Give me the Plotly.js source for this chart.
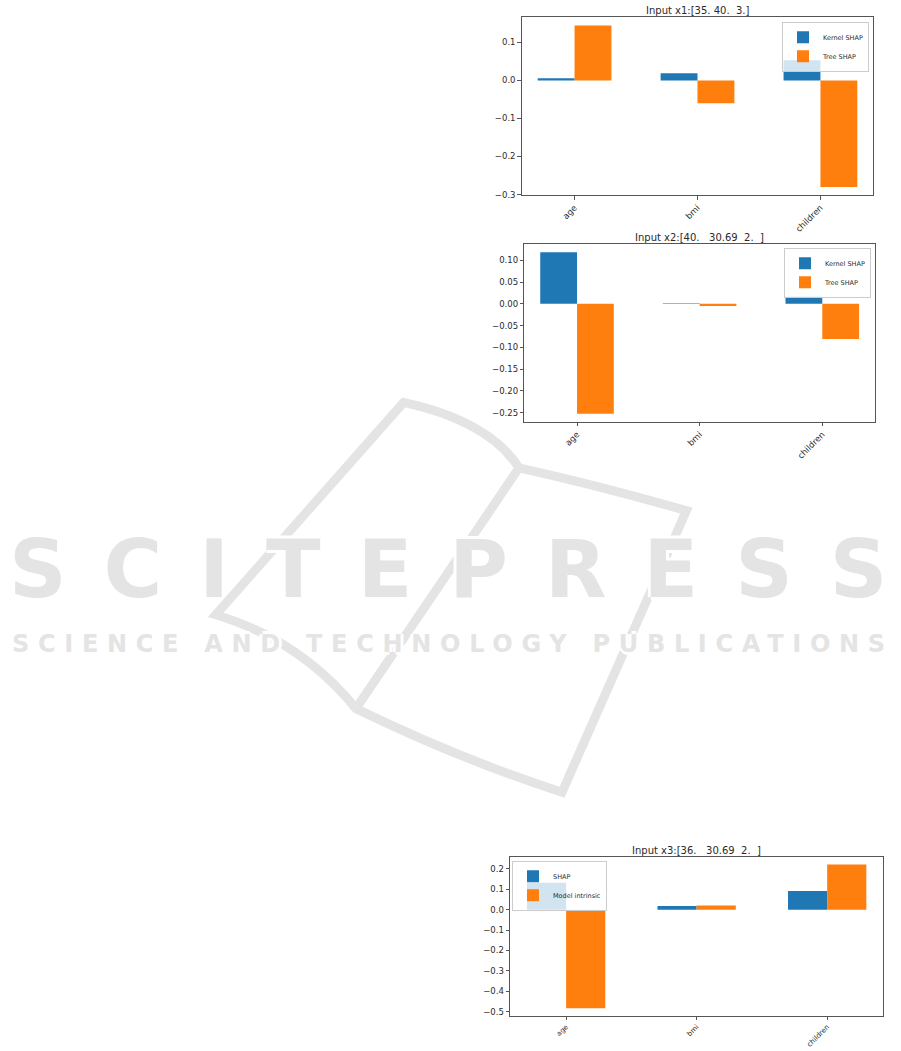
<!DOCTYPE html>
<html>
<head>
<meta charset="utf-8">
<script src="https://cdn.plot.ly/plotly-3.0.1.min.js"></script>
<style>html,body{margin:0;padding:0;background:#fff;}#chart{width:901px;height:1051px;}</style>
</head>
<body>
<div id="chart"></div>
<script>
// ---- data ----
const categories = ["age", "bmi", "children"];

const title1 = "Input x1:[35. 40.  3.]";
const kernel1 = [0.006, 0.019, 0.053];
const tree1 = [0.145, -0.060, -0.280];

const title2 = "Input x2:[40.   30.69  2.  ]";
const kernel2 = [0.118, 0.0015, 0.016];
const tree2 = [-0.252, -0.005, -0.081];

const title3 = "Input x3:[36.   30.69  2.  ]";
const shap3 = [0.132, 0.018, 0.092];
const intrinsic3 = [-0.484, 0.021, 0.222];

const seriesNames12 = ["Kernel SHAP", "Tree SHAP"];
const seriesNames3 = ["SHAP", "Model intrinsic"];

// ---- styling ----
const BLUE = "#1f77b4", ORANGE = "#ff7f0e";
const W = 901, H = 1051;
const TXT = "#2a2a2a", LINE = "#555";
const FONT = "DejaVu Sans, sans-serif";

function px(x) { return x / W; }
function py(y) { return 1 - y / H; }

function padRange(a, b) {
  const vals = a.concat(b, [0]);
  const lo = Math.min(...vals), hi = Math.max(...vals);
  const m = (hi - lo) * 0.05;
  return [lo - m, hi + m];
}

function xAxis(d0, d1, anchor, fs) {
  return {
    domain: [px(d0), px(d1)], anchor: anchor, type: "category",
    range: [-0.43, 2.43], tickangle: -45, ticks: "outside", ticklen: 3.5,
    tickcolor: LINE, showline: true, mirror: true, linecolor: LINE, linewidth: 1,
    showgrid: false, zeroline: false, tickfont: {family: FONT, size: fs, color: TXT},
    fixedrange: true
  };
}
function yAxis(top, bottom, anchor, range, dtick, fmt) {
  return {
    domain: [py(bottom), py(top)], anchor: anchor, range: range, dtick: dtick,
    tick0: 0, tickformat: fmt, ticks: "outside", ticklen: 3.5, tickcolor: LINE,
    showline: true, mirror: true, linecolor: LINE, linewidth: 1,
    showgrid: false, zeroline: false, tickfont: {family: FONT, size: 8.5, color: TXT},
    fixedrange: true
  };
}

function bar(name, y, color, xa, ya, legend) {
  return {type: "bar", name: name, x: categories, y: y, marker: {color: color, line: {width: 0}},
          xaxis: xa, yaxis: ya, legend: legend, hoverinfo: "skip"};
}

const traces = [
  bar(seriesNames12[0], kernel1, BLUE, "x", "y", "legend"),
  bar(seriesNames12[1], tree1, ORANGE, "x", "y", "legend"),
  bar(seriesNames12[0], kernel2, BLUE, "x2", "y2", "legend2"),
  bar(seriesNames12[1], tree2, ORANGE, "x2", "y2", "legend2"),
  bar(seriesNames3[0], shap3, BLUE, "x3", "y3", "legend3"),
  bar(seriesNames3[1], intrinsic3, ORANGE, "x3", "y3", "legend3")
];

function legendBox(x, y, xanchor) {
  return {x: px(x), y: py(y), xanchor: xanchor, yanchor: "top", xref: "paper", yref: "paper",
          bgcolor: "rgba(255,255,255,0.8)", bordercolor: "#cccccc", borderwidth: 1,
          font: {family: FONT, size: 6.5, color: TXT}, itemwidth: 30, tracegroupgap: 0};
}

function titleAnn(text, x, y) {
  return {text: text, x: px(x), y: py(y), xref: "paper", yref: "paper", showarrow: false,
          xanchor: "center", yanchor: "middle", font: {family: FONT, size: 10, color: TXT}};
}

const wmColor = "#e4e4e4";
const wmShadow = "3px 0 0 #fff, -3px 0 0 #fff, 0 3px 0 #fff, 0 -3px 0 #fff";

const layout = {
  width: W, height: H, margin: {l: 0, r: 0, t: 0, b: 0},
  paper_bgcolor: "#fff", plot_bgcolor: "rgba(0,0,0,0)",
  barmode: "group", bargap: 0.4, bargroupgap: 0,
  showlegend: true,
  xaxis: xAxis(521.7, 873.3, "y", 8.5),
  yaxis: yAxis(17.3, 195, "x", padRange(kernel1, tree1), 0.1, ".1f"),
  xaxis2: xAxis(524.3, 875, "y2", 8.5),
  yaxis2: yAxis(244.3, 421.7, "x2", padRange(kernel2, tree2), 0.05, ".2f"),
  xaxis3: xAxis(510, 883.3, "y3", 7),
  yaxis3: yAxis(857.3, 1015.5, "x3", padRange(shap3, intrinsic3), 0.1, ".1f"),
  legend: legendBox(869, 21.7, "right"),
  legend2: legendBox(871, 247.7, "right"),
  legend3: legendBox(512, 860.7, "left"),
  shapes: [{
    type: "path", layer: "below", xref: "paper", yref: "paper",
    path: "M" + px(403.6) + "," + py(402.4) +
          " Q" + px(489) + "," + py(421) + " " + px(519) + "," + py(467.8) +
          " Q" + px(597) + "," + py(485) + " " + px(686.4) + "," + py(510.6) +
          " L" + px(562) + "," + py(792.2) +
          " Q" + px(462) + "," + py(760) + " " + px(356) + "," + py(708.6) +
          " Q" + px(300) + "," + py(640) + " " + px(215.8) + "," + py(614.7) +
          " Z M" + px(519) + "," + py(467.8) + " L" + px(356) + "," + py(708.6),
    line: {color: wmColor, width: 9}, fillcolor: "rgba(0,0,0,0)"
  }],
  annotations: [
    titleAnn(title1, 697.5, 10.7),
    titleAnn(title2, 699.7, 237.7),
    titleAnn(title3, 696.7, 850.7),
    {text: '<span style="letter-spacing:37px">SCITEPRES</span>S', x: px(448), y: py(569),
     xref: "paper", yref: "paper", showarrow: false, xanchor: "center", yanchor: "middle",
     font: {family: FONT, size: 80, color: wmColor, weight: 700, shadow: wmShadow}},
    {text: '<span style="letter-spacing:8.7px">SCIENCE AND TECHNOLOGY PUBLICATION</span>S', x: px(448), y: py(644),
     xref: "paper", yref: "paper", showarrow: false, xanchor: "center", yanchor: "middle",
     font: {family: FONT, size: 24, color: wmColor, weight: 700, shadow: wmShadow}}
  ]
};

Plotly.newPlot("chart", traces, layout, {staticPlot: true, displayModeBar: false});
</script>
</body>
</html>
